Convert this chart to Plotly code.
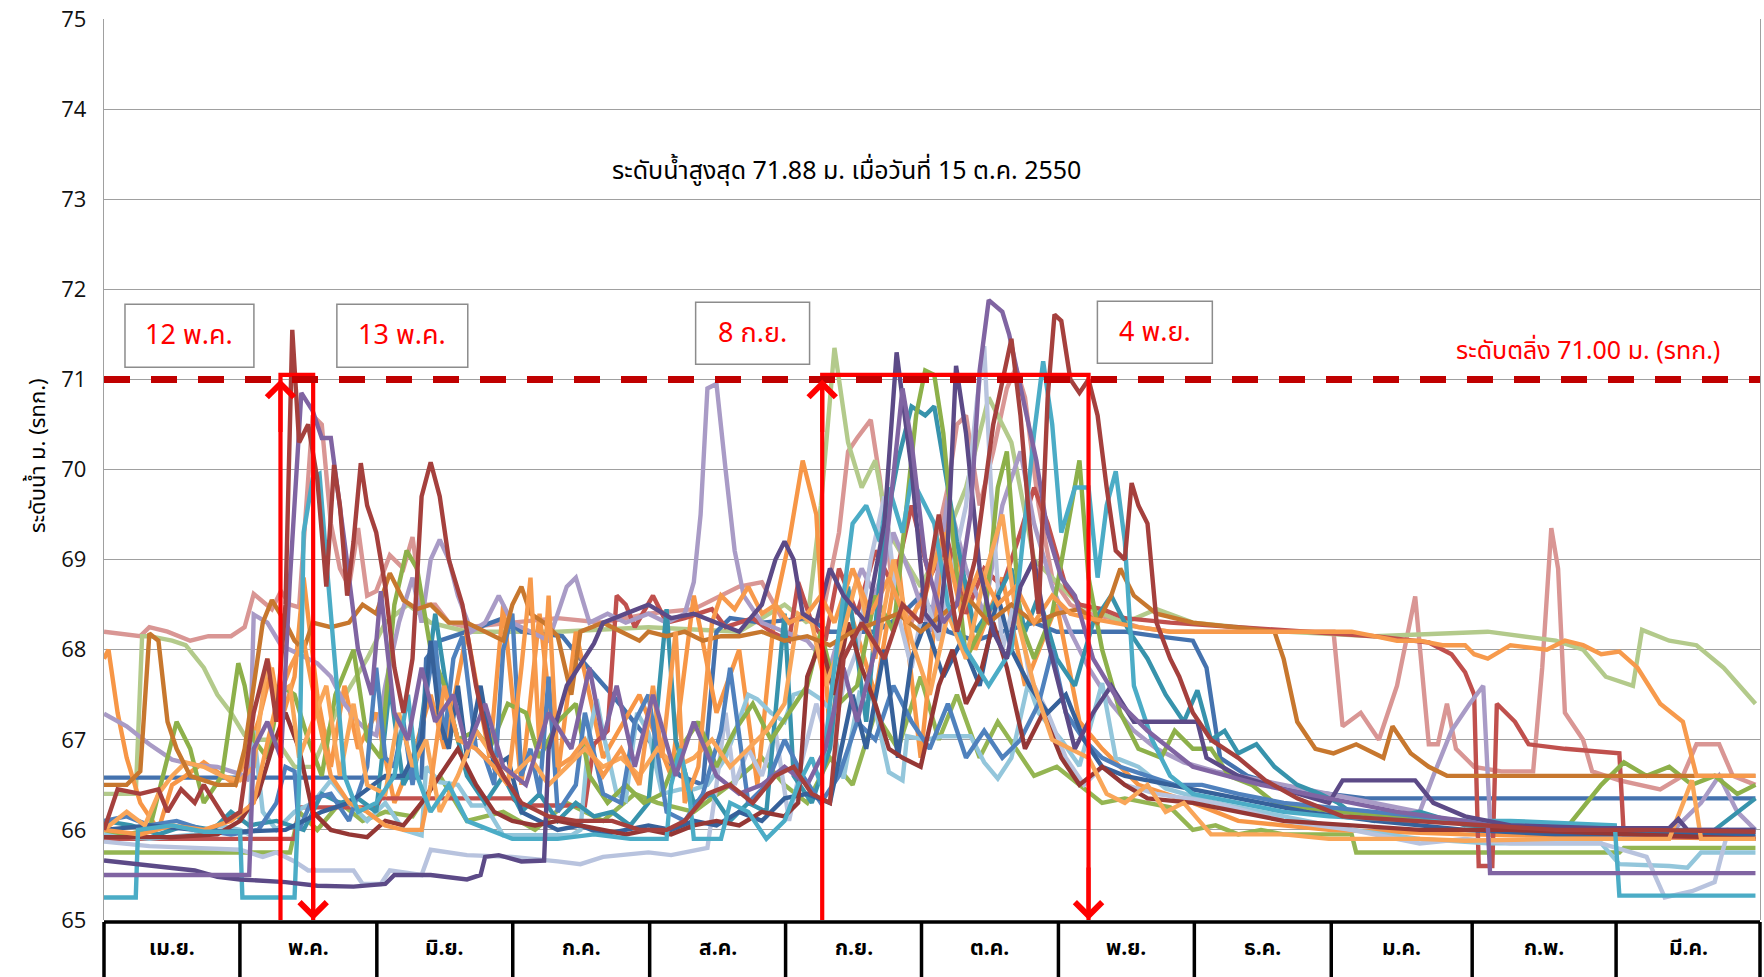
import plotly.graph_objects as go

# ---------------- data (day of water year from 1 Apr, water level m. MSL) ----------------
month_labels = ["เม.ย.", "พ.ค.", "มิ.ย.", "ก.ค.", "ส.ค.", "ก.ย.", "ต.ค.", "พ.ย.", "ธ.ค.", "ม.ค.", "ก.พ.", "มี.ค."]
bank_level = 71.00
max_text = "ระดับน้ำสูงสุด 71.88 ม. เมื่อวันที่ 15 ต.ค. 2550"
bank_text = "ระดับตลิ่ง 71.00 ม. (รทก.)"
event_labels = ["12 พ.ค.", "13 พ.ค.", "8 ก.ย.", "4 พ.ย."]
event_days = [38.9, 46.1, 158.3, 217.0]

pink_day = [0, 8, 10, 14, 19, 23, 28, 31, 33, 37, 39, 41, 43, 44, 46, 48, 50, 52, 54, 56, 58, 60, 63, 66, 68, 70, 73, 76, 80, 90, 100, 110, 120, 130, 140, 145, 150, 155, 158, 162, 164, 166, 169, 171, 174, 178, 182, 186, 188, 190, 193, 196, 199, 201, 203, 206, 209, 213, 217, 222, 228, 235, 250, 265, 271, 273, 277, 281, 285, 289, 292, 294, 296, 298, 302, 308, 315, 317, 319, 320.5, 322, 326, 328, 334, 343, 348, 351, 356, 359, 364]
pink_lvl = [68.2, 68.15, 68.25, 68.2, 68.1, 68.15, 68.15, 68.25, 68.62, 68.45, 68.65, 68.5, 68.47, 69.2, 70.6, 70.5, 69.4, 68.9, 68.7, 69.35, 68.6, 68.65, 69.05, 68.9, 69.25, 68.5, 68.5, 68.3, 68.25, 68.3, 68.35, 68.3, 68.4, 68.45, 68.7, 68.75, 68.3, 68.35, 68.3, 69.3, 70.2, 70.35, 70.55, 69.9, 68.6, 68.3, 68.9, 69.8, 70.5, 70.6, 69.6, 70.2, 70.9, 71.13, 70.8, 69.6, 68.8, 68.5, 68.4, 68.35, 68.25, 68.2, 68.2, 68.2, 68.2, 67.15, 67.3, 67.0, 67.6, 68.59, 66.95, 66.95, 67.4, 66.9, 66.7, 66.65, 66.65, 67.8, 69.35, 68.9, 67.3, 67.0, 66.65, 66.55, 66.45, 66.6, 66.95, 66.95, 66.6, 66.5]

lgreen_day = [0, 7, 8.4, 10, 15, 18, 22, 25, 28, 31, 33, 38, 42, 46, 52, 58, 62, 67, 72, 80, 100, 120, 140, 150, 155, 158, 161, 164, 167, 170, 173, 180, 186, 190, 195, 200, 205, 215, 225, 232, 240, 260, 280, 305, 320, 326, 331, 337, 339, 345, 351, 357, 364]
lgreen_lvl = [66.4, 66.4, 68.15, 68.15, 68.1, 68.05, 67.8, 67.5, 67.3, 67.05, 67.0, 67.0, 66.7, 66.7, 67.4, 67.9, 68.3, 68.5, 68.3, 68.2, 68.2, 68.25, 68.2, 68.5, 68.3, 69.6, 71.35, 70.3, 69.8, 70.1, 69.3, 68.7, 69.3, 69.8, 70.8, 70.3, 69.0, 68.5, 68.3, 68.45, 68.3, 68.2, 68.15, 68.2, 68.1, 68.0, 67.7, 67.6, 68.22, 68.1, 68.05, 67.8, 67.4]

orange_day = [0, 1, 3, 5, 8, 12, 15, 18, 22, 26, 29, 34, 37, 39, 42, 44, 47, 50, 53, 56, 60, 64, 68, 72, 75, 80, 85, 88, 92, 96, 100, 104, 110, 118, 125, 130, 135, 140, 144, 148, 151, 154, 157, 160, 164, 170, 175, 180, 186, 192, 198, 203, 210, 215, 220, 228, 240, 250, 270, 300, 364]
orange_lvl = [67.9, 68.0, 67.3, 66.8, 66.3, 66.0, 66.5, 66.6, 66.75, 66.6, 66.5, 67.2, 67.8, 67.2, 67.7, 68.8, 67.5, 66.7, 67.6, 66.9, 67.3, 66.3, 66.8, 67.5, 66.9, 68.2, 66.8, 68.5, 66.5, 68.4, 66.6, 68.2, 66.8, 67.5, 66.6, 68.6, 67.3, 68.0, 66.5, 68.5, 69.2, 70.1, 69.5, 67.0, 68.5, 67.5, 69.0, 66.8, 69.7, 68.0, 68.8, 67.6, 68.5, 67.2, 66.9, 66.5, 66.3, 66.1, 66.0, 65.95, 65.9]

steel_day = [0, 70, 71, 74, 80, 88, 92, 101, 105, 112, 120, 127, 132, 135, 138, 145, 155, 160, 170, 175, 180, 183, 186, 192, 198, 205, 210, 218, 225, 232, 240, 243, 246, 252, 262, 278, 364]
steel_lvl = [66.58, 66.58, 67.9, 68.1, 68.2, 68.35, 68.2, 68.15, 67.9, 67.5, 67.0, 66.6, 66.5, 68.2, 68.35, 68.3, 68.35, 68.2, 68.2, 68.35, 68.6, 68.4, 68.2, 68.1, 68.2, 68.3, 68.2, 68.2, 68.2, 68.15, 68.1, 67.8, 66.8, 66.6, 66.45, 66.35, 66.35]

red_day = [0, 42, 43, 60, 61, 90, 92, 106, 108, 111, 113, 115, 117, 121, 124, 128, 134, 137, 143, 147, 151, 153, 156, 159, 162, 166, 170, 174, 178, 182, 186, 190, 194, 198, 202, 205, 208, 212, 215, 220, 225, 235, 250, 265, 280, 292, 297, 300, 302, 303, 306, 307, 311, 314, 322, 334, 335, 364]
red_lvl = [65.9, 65.9, 66.25, 66.25, 66.35, 66.35, 66.27, 66.27, 66.95, 67.1, 68.6, 68.5, 68.25, 68.6, 68.3, 68.35, 68.45, 68.25, 68.35, 68.2, 68.1, 68.75, 68.3, 68.1, 68.9, 68.4, 69.1, 68.7, 69.6, 68.8, 69.2, 68.4, 68.9, 68.7, 69.3, 69.8, 69.4, 68.7, 68.5, 68.45, 68.35, 68.3, 68.25, 68.2, 68.15, 68.08, 67.95, 67.75, 67.5, 65.6, 65.6, 67.4, 67.2, 66.95, 66.9, 66.85, 65.92, 65.92]

maroon_day = [0, 3, 8, 12, 14, 17, 20, 22, 27, 30, 33, 36, 38, 40, 41.5, 43, 45, 47, 49, 50.7, 52, 53.6, 55, 56.6, 58, 60, 62, 64, 66, 68, 70, 72, 74, 76, 79, 82, 85, 88, 92, 98, 104, 112, 118, 124, 128, 133, 138, 143, 148, 152, 156, 160, 163, 167, 172, 176, 180, 184, 188, 192, 196, 200, 202, 204, 206, 208, 209.5, 211, 213, 215, 217, 219, 221, 223, 225, 226.5, 228, 230, 232, 235, 237, 240, 244, 250, 256, 263, 273, 290, 305, 320, 340, 364]
maroon_lvl = [66.0, 66.45, 66.4, 66.45, 66.2, 66.45, 66.3, 66.5, 66.1, 66.2, 67.3, 67.9, 67.2, 68.5, 71.55, 70.3, 70.5, 69.9, 68.7, 70.05, 69.6, 68.6, 69.2, 70.07, 69.6, 69.3, 68.7, 67.8, 67.3, 67.9, 69.7, 70.08, 69.7, 69.0, 68.5, 67.6, 66.9, 66.6, 66.3, 66.15, 66.1, 66.1, 66.0, 66.0, 66.1, 66.4, 66.5, 66.3, 66.6, 66.7, 66.4, 66.3, 67.9, 68.3, 67.9, 68.5, 68.3, 69.5, 68.2, 69.0, 70.5, 71.45, 70.6, 69.4, 68.4, 70.8, 71.72, 71.65, 71.0, 70.85, 71.0, 70.6, 69.8, 69.1, 69.0, 69.85, 69.6, 69.4, 68.3, 67.9, 67.7, 67.3, 67.0, 66.8, 66.55, 66.35, 66.15, 66.1, 66.05, 66.0, 66.0, 65.98]

purple_day = [0, 32, 33, 36, 39, 41, 43.5, 46, 48, 50, 53, 56, 59, 61, 64, 67, 70, 73, 77, 80, 84, 88, 93, 98, 103, 107, 110, 113, 117, 121, 126, 130, 135, 140, 145, 150, 155, 159, 163, 166, 170, 174, 176, 178, 181, 185, 188, 191, 193, 195, 197, 198, 199.5, 202, 205.5, 208, 211, 214, 218, 224, 230, 240, 255, 270, 285, 300, 305, 305.5, 364]
purple_lvl = [65.5, 65.5, 66.9, 67.2, 66.8, 68.8, 70.85, 70.65, 70.35, 70.35, 69.2, 68.0, 67.5, 68.65, 67.3, 67.0, 67.8, 67.2, 67.5, 66.9, 67.4, 66.7, 66.5, 67.3, 66.9, 67.8, 67.0, 67.6, 66.7, 67.5, 66.6, 67.2, 66.6, 66.4, 66.5, 66.7, 66.5, 66.9, 67.8, 67.2, 68.0, 70.0, 70.9, 70.3, 69.0, 68.3, 68.5, 69.5, 71.1, 71.88, 71.8, 71.75, 71.5, 70.9, 70.1, 69.3, 68.8, 68.6, 67.9, 67.4, 67.1, 66.7, 66.5, 66.35, 66.2, 66.1, 66.05, 65.52, 65.52]

dpurple_day = [0, 10, 20, 25, 30, 40, 47, 55, 62, 64, 72, 80, 83, 84, 87, 92, 97, 98, 102, 108, 110, 115, 120, 125, 130, 135, 140, 145, 148, 150, 152, 154, 157, 160, 163, 168, 172, 174.7, 178, 181, 184, 186, 187.8, 190, 193, 196, 199, 202, 205, 208, 211, 214, 218, 222, 227, 232, 241, 243, 250, 260, 270, 273, 289, 293, 300, 310, 330, 345, 347, 349, 364]
dpurple_lvl = [65.66, 65.6, 65.55, 65.48, 65.45, 65.42, 65.38, 65.37, 65.4, 65.5, 65.5, 65.45, 65.5, 65.7, 65.72, 65.65, 65.66, 66.9, 67.6, 68.07, 68.3, 68.4, 68.5, 68.35, 68.4, 68.3, 68.2, 68.5, 69.0, 69.2, 69.0, 68.4, 68.3, 68.9, 68.6, 68.3, 69.4, 71.3, 70.0, 68.4, 68.2, 69.2, 71.15, 70.4, 68.9, 68.2, 67.9, 68.7, 69.0, 68.1, 67.5, 66.9, 67.3, 67.6, 67.2, 67.2, 67.2, 66.8, 66.6, 66.45, 66.3, 66.55, 66.55, 66.3, 66.15, 66.05, 66.02, 66.02, 66.12, 66.0, 66.0]

green_day = [0, 5, 10, 13, 16, 19, 22, 26, 29.6, 31, 33, 36, 39, 42, 45, 48, 51, 55, 58, 61, 64, 66.7, 69, 72, 75, 78, 82, 85, 89, 93, 96, 100, 104, 107, 111, 115, 119, 123, 127, 131, 135, 139, 143, 147, 151, 155, 158, 162, 166, 170, 174, 177, 179, 181, 183, 185, 187, 190, 194, 197, 199, 202, 205, 209, 213, 215, 217, 220, 224, 228, 233, 236, 240, 244, 248, 253, 258, 264, 272, 285, 300, 312, 322, 330, 335, 340, 345, 350, 355, 360, 364]
green_lvl = [66.0, 65.95, 66.0, 66.6, 67.2, 66.9, 66.3, 66.6, 67.85, 67.6, 67.0, 66.8, 67.6, 67.5, 67.0, 66.6, 67.5, 68.0, 67.0, 66.8, 68.5, 69.1, 68.9, 68.0, 67.6, 67.0, 67.1, 66.9, 67.4, 67.3, 66.8, 67.2, 67.4, 66.6, 66.3, 66.5, 66.3, 66.4, 66.9, 67.2, 66.7, 67.1, 67.4, 67.0, 67.3, 67.6, 68.2, 67.4, 67.6, 68.6, 68.2, 69.6, 70.6, 71.1, 71.05, 70.4, 69.3, 67.9, 68.3, 69.8, 70.2, 68.3, 67.9, 68.4, 69.5, 70.1, 68.8, 68.0, 67.3, 66.9, 66.8, 67.1, 66.9, 66.9, 66.6, 66.5, 66.3, 66.25, 66.2, 66.15, 66.1, 66.05, 66.0, 66.5, 66.75, 66.6, 66.7, 66.5, 66.6, 66.4, 66.5]

olive_day = [0, 41, 43, 47, 52, 57, 62, 68, 74, 80, 88, 95, 102, 110, 117, 122, 130, 138, 145, 150, 155, 160, 165, 170, 175, 180, 184, 188, 193, 197, 201, 205, 210, 215, 220, 225, 230, 235, 240, 245, 250, 255, 260, 275, 276, 334, 335, 364]
olive_lvl = [65.75, 65.75, 66.2, 66.0, 66.3, 66.1, 66.2, 66.15, 66.6, 66.1, 66.2, 66.0, 66.3, 66.1, 66.4, 66.3, 66.2, 66.5, 66.8, 66.5, 66.3, 66.8, 66.5, 67.3, 66.9, 67.7, 67.0, 67.5, 66.8, 67.2, 66.9, 66.6, 66.7, 66.5, 66.3, 66.35, 66.3, 66.25, 66.0, 66.05, 65.95, 66.0, 65.95, 65.95, 65.75, 65.75, 65.8, 65.8]

aqua_day = [0, 7, 7.5, 15, 22, 30, 30.5, 42, 43, 44, 46, 47.5, 49, 51, 53, 56, 60, 64, 67, 69, 72, 76, 80, 85, 90, 100, 108, 116, 124, 125, 127, 129, 130, 136, 138, 142, 146, 150, 153, 156, 158, 160, 163, 165, 168, 171, 173, 176, 178, 180, 183, 186, 190, 195, 200, 205, 207, 209, 211, 214, 217, 219, 221, 223, 225, 227, 231, 235, 240, 250, 260, 270, 290, 310, 333, 334, 364]
aqua_lvl = [65.25, 65.25, 66.0, 66.05, 65.98, 65.98, 65.25, 65.25, 66.5, 69.3, 69.9, 69.95, 69.0, 67.8, 66.6, 66.2, 66.3, 66.6, 67.5, 66.6, 66.2, 66.5, 66.1, 66.0, 65.9, 65.9, 65.95, 65.9, 65.9, 66.5, 66.9, 66.4, 65.9, 65.9, 66.3, 66.2, 65.9, 66.1, 66.5, 66.8, 66.5, 67.4, 68.6, 69.4, 69.6, 69.2, 69.8, 69.3, 69.9, 69.7, 69.4, 68.5, 68.0, 67.6, 68.0, 70.4, 71.2, 70.5, 69.3, 69.8, 69.8, 68.8, 69.6, 69.98, 69.2, 67.6, 67.0, 66.6, 66.4, 66.3, 66.2, 66.15, 66.1, 66.1, 66.05, 65.27, 65.27]

teal_day = [0, 6, 12, 18, 24, 28, 32, 38, 44, 48, 52, 56, 60, 63, 66, 69, 73, 76, 80, 84, 88, 92, 96, 100, 104, 108, 112, 116, 120, 124, 126, 130, 134, 138, 142, 146, 150, 152, 156, 160, 164, 168, 172, 175, 178, 181, 183, 185, 188, 192, 196, 200, 203, 206, 210, 214, 218, 222, 226, 230, 234, 238, 241, 244, 247, 250, 254, 258, 263, 268, 272, 276, 280, 290, 300, 320, 340, 355, 360, 364]
teal_lvl = [66.1, 66.05, 65.95, 66.05, 66.0, 66.2, 66.05, 66.1, 66.0, 66.4, 66.3, 66.35, 66.2, 67.6, 66.5, 66.8, 68.4, 67.4, 66.6, 66.3, 66.6, 66.2, 66.4, 66.1, 66.3, 66.15, 66.2, 66.05, 66.3, 68.45, 67.0, 66.3, 66.4, 66.1, 66.3, 66.2, 68.4, 66.6, 66.3, 66.9, 68.7, 67.2, 69.3, 70.1, 70.7, 70.6, 70.7, 70.1, 69.2, 68.2, 68.5, 68.9, 68.2, 68.6, 67.9, 67.6, 68.3, 68.6, 68.2, 67.9, 67.5, 67.2, 67.55, 67.0, 67.1, 66.85, 66.95, 66.7, 66.5, 66.4, 66.3, 66.15, 66.1, 66.2, 66.05, 66.0, 65.95, 66.0, 66.2, 66.35]

lorange_day = [0, 8, 15, 22, 28, 33, 38, 41, 44, 47, 50, 54, 58, 62, 66, 70, 72, 75, 78, 82, 86, 89, 92, 94, 96, 98, 100, 103, 106, 110, 114, 118, 121, 123, 126, 128, 131, 134, 136, 139, 142, 145, 148, 151, 155, 158, 161, 165, 169, 173, 177, 181, 185, 189, 193, 197, 201, 205, 209, 213, 217, 222, 228, 235, 250, 265, 275, 280, 285, 290, 295, 300, 302, 305, 310, 318, 322, 326, 330, 334, 338, 343, 348, 350, 351, 364]
lorange_lvl = [66.0, 65.95, 66.05, 66.0, 66.1, 66.3, 67.4, 67.8, 68.1, 67.3, 66.6, 66.3, 66.2, 66.05, 66.0, 66.0, 66.5, 67.6, 67.0, 66.9, 66.7, 66.5, 67.8, 68.8, 66.9, 68.6, 66.7, 66.8, 67.0, 66.6, 66.9, 66.5, 67.6, 66.8, 68.2, 66.3, 66.7, 68.3, 68.6, 68.45, 68.7, 68.4, 68.5, 68.3, 68.4, 68.6, 68.3, 68.9, 68.4, 68.8, 68.3, 68.6, 69.3, 68.4, 68.9, 68.5, 68.7, 68.3, 68.6, 68.4, 68.35, 68.3, 68.25, 68.2, 68.2, 68.2, 68.2, 68.15, 68.1, 68.1, 68.05, 68.05, 67.95, 67.9, 68.05, 68.0, 68.1, 68.05, 67.95, 67.98, 67.8, 67.4, 67.2, 66.8, 66.6, 66.6]

brown_day = [0, 5, 8, 10, 12, 14, 16, 19, 22, 25, 29, 31, 33, 35, 37, 40, 42, 44, 46, 50, 54, 57, 60, 63, 66, 69, 72, 76, 80, 84, 88, 90, 92, 94, 97, 100, 103, 105, 110, 114, 118, 120, 124, 128, 132, 136, 140, 145, 150, 155, 160, 165, 170, 175, 180, 185, 190, 195, 200, 205, 210, 215, 219, 222, 224, 227, 232, 240, 250, 258, 260, 263, 267, 271, 276, 282, 284, 288, 292, 296, 364]
brown_lvl = [66.5, 66.5, 66.65, 68.18, 68.1, 67.2, 66.9, 66.6, 66.55, 66.5, 66.5, 66.9, 67.6, 68.3, 68.55, 68.3, 68.1, 68.0, 68.3, 68.25, 68.3, 68.5, 68.4, 68.85, 68.55, 68.45, 68.5, 68.3, 68.3, 68.2, 68.1, 68.5, 68.7, 68.4, 68.3, 68.15, 67.5, 68.2, 68.3, 68.2, 68.1, 68.2, 68.15, 68.2, 68.1, 68.15, 68.15, 68.2, 68.1, 68.15, 68.05, 68.2, 68.3, 68.4, 68.2, 68.4, 68.6, 68.3, 68.5, 68.3, 68.4, 68.45, 68.3, 68.6, 68.9, 68.6, 68.4, 68.3, 68.25, 68.2, 67.9, 67.2, 66.9, 66.85, 66.95, 66.8, 67.15, 66.85, 66.7, 66.6, 66.6]

peri_day = [0, 10, 20, 30, 35, 38, 42, 45, 55, 57, 61, 63, 70, 72, 80, 90, 100, 105, 110, 120, 125, 133, 135, 137, 139, 142, 145, 148, 151, 154, 157, 160, 163, 166, 169, 172, 175, 178, 181, 184, 187, 190, 192.5, 194, 195.5, 198, 201, 204, 208, 212, 216, 220, 225, 232, 245, 260, 275, 290, 300, 310, 330, 340, 344, 350, 355, 358, 364]
peri_lvl = [65.87, 65.82, 65.8, 65.78, 65.7, 65.75, 65.65, 65.55, 65.55, 65.4, 65.4, 65.55, 65.5, 65.78, 65.72, 65.7, 65.65, 65.62, 65.7, 65.75, 65.72, 65.8, 66.5, 67.3, 66.5, 66.9, 66.6, 67.1, 66.1, 66.8, 67.4, 66.9, 67.6, 68.0, 69.0, 69.7, 68.4, 67.8, 68.6, 68.1, 68.9, 69.6, 70.8, 71.37, 69.8, 68.0, 68.6, 67.7, 67.3, 66.8, 66.5, 66.7, 66.5, 66.4, 66.3, 66.1, 66.0, 65.85, 65.9, 65.85, 65.85, 65.7, 65.25, 65.32, 65.42, 66.0, 65.95]

lav_day = [0, 5, 10, 15, 20, 25, 30, 32, 33, 36, 39, 43, 47, 50, 53, 56, 58, 60, 62, 65, 68, 70, 72, 74, 76, 78, 81, 84, 87, 90, 94, 98, 102, 104, 107, 111, 115, 120, 124, 128, 130, 131.5, 133, 135, 137, 139, 141, 145, 150, 155, 160, 164, 167, 170, 174, 178, 182, 186, 190, 194, 198, 202, 205, 209, 213, 217, 222, 227, 232, 238, 245, 255, 265, 275, 285, 290, 293, 297, 301, 304, 305.5, 315, 330, 345, 352, 356, 360, 364]
lav_lvl = [67.29, 67.15, 66.95, 66.78, 66.72, 66.7, 66.62, 66.55, 68.39, 68.3, 68.05, 67.95, 67.85, 67.7, 67.4, 67.2, 67.1, 67.05, 67.6, 68.3, 68.8, 68.3, 69.0, 69.22, 69.0, 68.6, 68.2, 68.3, 68.6, 68.3, 68.2, 68.1, 68.7, 68.8, 68.3, 68.4, 68.3, 68.4, 68.3, 68.4, 68.75, 69.5, 70.9, 70.95, 70.0, 69.1, 68.6, 68.3, 68.2, 68.1, 67.8, 68.5, 68.9, 68.6, 69.3, 68.8, 68.2, 69.7, 68.9, 68.4, 69.6, 70.2, 69.4, 68.7, 68.2, 67.8, 67.4, 67.1, 66.9, 66.75, 66.65, 66.55, 66.45, 66.35, 66.25, 66.2, 66.6, 67.1, 67.4, 67.6, 66.1, 66.0, 65.95, 65.95, 66.3, 66.6, 66.2, 66.0]

laqua_day = [0, 10, 20, 25, 30, 32, 33, 35, 38, 42, 46, 50, 54, 58, 62, 66, 70, 71, 74, 78, 81, 84, 88, 103, 105, 107, 108.6, 110, 113, 115, 117.5, 120, 123, 127, 130, 133, 137, 142, 144, 147, 150, 152, 155, 158, 160, 163, 166.5, 169.5, 173, 176, 177, 181, 185, 191, 194, 197, 200, 203.7, 206, 211, 215, 220, 223, 228, 234, 245, 260, 275, 290, 305, 330, 334, 345, 349, 352, 364]
laqua_lvl = [65.95, 65.9, 65.95, 66.05, 66.0, 65.95, 67.1, 66.2, 66.0, 66.2, 66.3, 66.55, 66.3, 66.1, 66.3, 66.0, 65.94, 66.7, 66.53, 66.5, 66.27, 66.27, 65.94, 65.94, 66.0, 67.08, 67.45, 67.08, 66.4, 66.33, 67.3, 67.08, 66.4, 66.45, 66.45, 66.5, 66.8, 67.5, 67.45, 67.3, 67.2, 67.5, 67.55, 67.45, 67.34, 66.57, 67.52, 67.45, 66.64, 66.55, 67.04, 67.0, 67.04, 67.04, 66.75, 66.57, 66.8, 67.63, 67.3, 67.0, 66.71, 67.63, 66.8, 66.7, 66.46, 66.3, 66.15, 66.0, 65.9, 65.85, 65.85, 65.62, 65.6, 65.58, 65.75, 65.75]

blue_day = [0, 5, 10, 16, 22, 28, 34, 38, 40, 42, 43, 46, 50, 54, 58, 60, 62, 64, 66, 68, 71, 73, 75, 77, 79, 82, 84, 86, 88, 90, 92, 94, 96, 98, 100, 104, 106, 110, 114, 117, 120, 124, 128, 132, 136, 138, 142, 146, 150, 154, 158, 162, 166, 170, 174, 178, 182, 186, 190, 194, 198, 202, 206, 209, 212, 216, 220, 224, 230, 236, 242, 250, 260, 270, 280, 290, 300, 315, 335, 364]
blue_lvl = [66.1, 66.15, 66.05, 66.1, 66.0, 65.95, 66.0, 66.3, 66.7, 66.65, 66.0, 66.35, 66.4, 66.1, 66.7, 67.8, 66.8, 66.7, 67.2, 66.5, 67.5, 68.1, 67.0, 67.9, 68.15, 66.9, 66.8, 66.5, 68.0, 68.4, 66.6, 66.9, 66.4, 67.7, 66.2, 66.5, 67.3, 66.4, 66.3, 67.2, 67.5, 66.2, 66.1, 66.4, 67.1, 67.8, 66.3, 66.5, 67.0, 66.6, 66.3, 66.6, 67.2, 67.0, 67.6, 67.2, 66.9, 67.4, 66.8, 67.1, 66.8, 67.0, 67.4, 68.0, 67.3, 67.0, 66.8, 66.7, 66.6, 66.5, 66.5, 66.4, 66.3, 66.25, 66.2, 66.15, 66.1, 66.05, 66.0, 66.0]

navy_day = [0, 10, 20, 30, 40, 48, 54, 58, 62, 66, 70, 72, 74, 76, 78, 80, 83, 86, 89, 92, 96, 100, 105, 110, 115, 120, 125, 130, 135, 140, 145, 150, 155, 160, 165, 168, 172, 175, 178, 181, 185, 189, 193, 197, 200, 204, 208, 212, 216, 220, 225, 230, 235, 245, 255, 265, 280, 300, 320, 364]
navy_lvl = [66.0, 66.05, 66.0, 65.98, 66.0, 66.2, 66.3, 66.45, 66.6, 66.6, 67.0, 68.1, 67.2, 66.9, 67.6, 66.8, 67.6, 66.7, 66.8, 66.2, 66.1, 66.0, 66.05, 65.95, 66.0, 66.05, 66.0, 66.1, 66.05, 66.2, 66.1, 66.35, 66.4, 66.3, 67.5, 66.9, 68.0, 66.8, 67.9, 68.3, 67.7, 68.1, 67.6, 68.6, 68.0, 67.6, 67.3, 67.5, 67.0, 66.7, 66.6, 66.55, 66.5, 66.4, 66.3, 66.2, 66.1, 66.0, 65.95, 65.95]

maroon2_day = [0, 15, 25, 30, 34, 37, 40, 43, 46, 50, 54, 58, 62, 66, 70, 74, 78, 82, 86, 90, 95, 100, 105, 110, 115, 120, 125, 130, 135, 140, 145, 150, 153, 155, 158, 161, 164, 167, 170, 173, 176, 180, 184, 187, 190, 193, 196, 199, 203, 207, 211, 215, 220, 225, 230, 240, 250, 260, 275, 290, 310, 340, 364]
maroon2_lvl = [65.92, 65.92, 65.95, 66.1, 66.4, 66.9, 67.3, 66.9, 66.2, 66.0, 65.95, 65.92, 66.1, 66.05, 66.3, 66.6, 66.9, 66.5, 66.2, 66.1, 66.05, 66.1, 66.05, 66.0, 65.95, 66.0, 65.95, 66.05, 66.1, 66.05, 66.2, 66.15, 66.3, 67.7, 68.1, 67.5, 68.3, 67.8, 67.4, 66.9, 66.8, 66.7, 67.6, 68.0, 67.4, 67.7, 68.3, 67.8, 66.9, 67.3, 66.8, 66.5, 66.7, 66.5, 66.35, 66.3, 66.2, 66.1, 66.05, 66.0, 66.0, 65.95, 65.9]

lorange2_day = [0, 5, 9, 12, 15, 18, 22, 26, 30, 33, 36, 38, 41, 43, 46, 49, 52, 55, 58, 62, 65, 68, 71, 74, 78, 82, 86, 90, 94, 98, 102, 106, 110, 114, 118, 122, 126, 130, 134, 138, 142, 146, 150, 153, 156, 159, 162, 166, 170, 174, 178, 182, 186, 190, 194, 198, 201, 205, 209, 213, 217, 221, 225, 230, 234, 238, 244, 250, 260, 270, 290, 300, 320, 345, 350, 352, 364]
lorange2_lvl = [66.0, 66.2, 66.05, 66.4, 66.6, 66.75, 66.7, 66.6, 66.55, 66.7, 67.9, 67.5, 67.6, 66.8, 67.2, 67.6, 66.6, 67.4, 66.5, 66.4, 67.3, 66.7, 67.0, 66.2, 66.6, 67.1, 66.8, 66.6, 66.8, 66.5, 66.7, 66.9, 66.7, 66.8, 66.6, 66.9, 66.7, 66.8, 67.0, 66.7, 66.9, 67.1, 67.4, 68.4, 68.3, 67.6, 68.0, 68.8, 67.9, 69.0, 68.1, 67.5, 68.4, 67.9, 68.8, 69.5, 68.4, 67.6, 67.0, 66.9, 66.8, 66.4, 66.3, 66.5, 66.2, 66.3, 65.95, 65.95, 65.95, 65.9, 65.9, 65.88, 65.9, 65.9, 66.55, 65.9, 65.9]

# ---------------- styles (kept apart from the data) ----------------
series = [
    ("s01", pink_day, pink_lvl, "#D99694"),
    ("s02", lgreen_day, lgreen_lvl, "#B3CA8B"),
    ("s03", olive_day, olive_lvl, "#94B552"),
    ("s04", steel_day, steel_lvl, "#4472AE"),
    ("s05", orange_day, orange_lvl, "#F79646"),
    ("s06", red_day, red_lvl, "#C0504D"),
    ("s07", lav_day, lav_lvl, "#A99BC6"),
    ("s08", laqua_day, laqua_lvl, "#93C6DB"),
    ("s09", peri_day, peri_lvl, "#B8C3DE"),
    ("s10", teal_day, teal_lvl, "#3793AC"),
    ("s11", green_day, green_lvl, "#8DB04A"),
    ("s12", blue_day, blue_lvl, "#4F81BD"),
    ("s13", navy_day, navy_lvl, "#36619A"),
    ("s14", maroon2_day, maroon2_lvl, "#953735"),
    ("s15", lorange2_day, lorange2_lvl, "#F9A659"),
    ("s16", brown_day, brown_lvl, "#C7772E"),
    ("s17", lorange_day, lorange_lvl, "#F79A4C"),
    ("s18", aqua_day, aqua_lvl, "#4BACC6"),
    ("s19", dpurple_day, dpurple_lvl, "#5C4A87"),
    ("s20", purple_day, purple_lvl, "#8064A2"),
    ("s21", maroon_day, maroon_lvl, "#A5403D"),
]

FONT = "Tahoma, 'Noto Sans Thai', 'Leelawadee UI', Loma, Garuda, 'DejaVu Sans', sans-serif"
W, H = 1764, 977
ML, MR, MT, MB = 104, 3, 17, 57
PW = W - ML - MR
PH = H - MT - MB

fig = go.Figure()
for name, d, v, c in series:
    fig.add_trace(go.Scatter(x=d, y=v, mode="lines", name=name, showlegend=False,
                             line=dict(color=c, width=4.4), hoverinfo="skip"))

# red brackets with arrows (event days)
for a, b in [(event_days[0], event_days[1]), (event_days[2], event_days[3])]:
    fig.add_trace(go.Scatter(x=[a, a, b, b], y=[65.0, bank_level + 0.05, bank_level + 0.05, 65.0],
                             mode="lines", line=dict(color="#FF0000", width=4.2), showlegend=False,
                             hoverinfo="skip"))

fig.update_layout(
    width=W, height=H,
    margin=dict(l=ML, r=MR, t=MT, b=MB),
    paper_bgcolor="white", plot_bgcolor="white",
    font=dict(family=FONT, color="#000000"),
    xaxis=dict(range=[0, 365], showgrid=False, showticklabels=False, zeroline=False,
               showline=False, ticks=""),
    yaxis=dict(range=[65, 75], dtick=1, tick0=65, showgrid=True, gridcolor="#A0A0A0",
               gridwidth=1.4, zeroline=False, showline=True, mirror=True, linecolor="#A0A0A0",
               linewidth=1.4, ticks="",
               tickfont=dict(size=22, family="'Open Sans', 'Noto Sans', sans-serif", color="#111111"),
               ticklabelstandoff=12),
)

# bank level dashed line
fig.add_shape(type="line", xref="x", yref="y", x0=0, x1=365, y0=bank_level, y1=bank_level,
              line=dict(color="#C00000", width=7, dash="26px,21px"), layer="above")

# arrow heads
for a, b in [(event_days[0], event_days[1]), (event_days[2], event_days[3])]:
    fig.add_annotation(x=a, y=bank_level, ax=a, ay=bank_level - 0.6, xref="x", yref="y",
                       axref="x", ayref="y", showarrow=True, arrowhead=4, arrowwidth=4.2,
                       arrowsize=1.25, arrowcolor="#FF0000", text="", standoff=0)
    fig.add_annotation(x=b, y=65.0, ax=b, ay=65.6, xref="x", yref="y",
                       axref="x", ayref="y", showarrow=True, arrowhead=4, arrowwidth=4.2,
                       arrowsize=1.25, arrowcolor="#FF0000", text="", standoff=0)

def px2fx(px):
    return (px - ML) / PW

def py2fy(py):
    return (MT + PH - py) / PH

# event date boxes
boxes = [(125, 254, 303, 366), (337, 468, 303, 366), (696, 810, 301, 363), (1098, 1213, 300, 362)]
for (x0, x1, y0, y1), lab in zip(boxes, event_labels):
    fig.add_shape(type="rect", xref="paper", yref="paper", x0=px2fx(x0), x1=px2fx(x1),
                  y0=py2fy(y1), y1=py2fy(y0), line=dict(color="#8C8C8C", width=1.5),
                  fillcolor="white", layer="above")
    fig.add_annotation(x=px2fx((x0 + x1) / 2), y=py2fy((y0 + y1) / 2), xref="paper", yref="paper",
                       text=lab, showarrow=False, font=dict(size=27, color="#FF0000", family=FONT),
                       xanchor="center", yanchor="middle")

# texts
fig.add_annotation(x=px2fx(847), y=py2fy(169), xref="paper", yref="paper", text=max_text,
                   showarrow=False, font=dict(size=25, color="#000000", family=FONT),
                   xanchor="center", yanchor="middle")
fig.add_annotation(x=px2fx(1589), y=py2fy(350), xref="paper", yref="paper", text=bank_text,
                   showarrow=False, font=dict(size=25, color="#FF0000", family=FONT),
                   xanchor="center", yanchor="middle")
fig.add_annotation(x=px2fx(38), y=py2fy(455), xref="paper", yref="paper",
                   text="ระดับน้ำ ม. (รทก.)", textangle=-90, showarrow=False,
                   font=dict(size=22, color="#000000", family=FONT),
                   xanchor="center", yanchor="middle")

# month table below the plot
edges = [104, 240, 377, 513, 650, 786, 922, 1059, 1195, 1332, 1473, 1617, 1761]
top = 922
bottom = 1000
fig.add_shape(type="line", xref="paper", yref="paper", x0=px2fx(edges[0]), x1=px2fx(edges[-1]),
              y0=py2fy(top), y1=py2fy(top), line=dict(color="#000000", width=3.5))
for e in edges:
    fig.add_shape(type="line", xref="paper", yref="paper", x0=px2fx(e), x1=px2fx(e),
                  y0=py2fy(top), y1=py2fy(bottom), line=dict(color="#000000", width=3.5))
for i, lab in enumerate(month_labels):
    fig.add_annotation(x=px2fx((edges[i] + edges[i + 1]) / 2), y=py2fy(949), xref="paper",
                       yref="paper", text="<b>" + lab + "</b>", showarrow=False,
                       font=dict(size=21, color="#000000", family=FONT),
                       xanchor="center", yanchor="middle")

fig.write_html("out.html", config={"displayModeBar": False},
               post_script="document.body.style.margin='0';document.body.style.overflow='hidden';")
